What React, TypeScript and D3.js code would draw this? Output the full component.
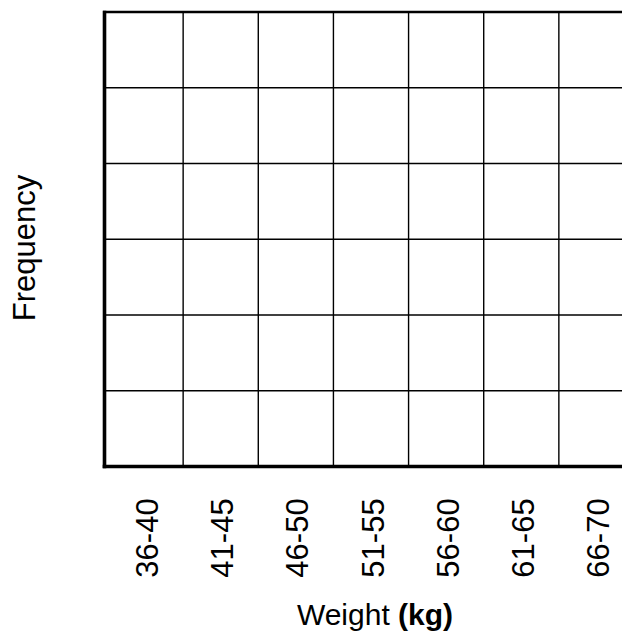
import React from "react";
import * as d3 from "d3";

const categories = ["36-40", "41-45", "46-50", "51-55", "56-60", "61-65", "66-70"];
const yTicks = [0, 1, 2, 3, 4, 5, 6];
const xTitle = "Weight ";
const xTitleBold = "(kg)";
const yTitle = "Frequency";

const W = 622;
const H = 637;

export default function App() {
  const x = d3.scaleBand<string>().domain(categories).range([108, 634]).paddingInner(0).paddingOuter(0);
  const y = d3.scaleLinear().domain([0, 6]).range([466.5, 12]);
  const axisX = 104.5;
  const font = "'Liberation Sans', Arial, Helvetica, sans-serif";
  const boundaries = categories.slice(1).map((c) => x(c) as number);

  return (
    <svg width={W} height={H} style={{ position: "absolute", left: 0, top: 0, background: "#fff" }}>
      <rect width={W} height={H} fill="#fff" />
      {/* horizontal grid lines */}
      {yTicks.slice(1, -1).map((t) => (
        <line key={"h" + t} x1={axisX} x2={W} y1={y(t)} y2={y(t)} stroke="#000" strokeWidth={1.4} />
      ))}
      {/* vertical grid lines */}
      {boundaries.map((b, i) => (
        <line key={"v" + i} x1={b} x2={b} y1={y(6)} y2={y(0)} stroke="#000" strokeWidth={1.4} />
      ))}
      {/* top border */}
      <line x1={axisX - 1.5} x2={W} y1={y(6)} y2={y(6)} stroke="#000" strokeWidth={2.6} />
      {/* left axis */}
      <line x1={axisX} x2={axisX} y1={y(6) - 1.3} y2={y(0) + 1.8} stroke="#000" strokeWidth={3.6} />
      {/* bottom axis */}
      <line x1={axisX - 1.8} x2={W} y1={y(0)} y2={y(0)} stroke="#000" strokeWidth={3.6} />
      {/* tick labels */}
      {categories.map((c) => {
        const cx = (x(c) as number) + x.bandwidth() / 2 + 12.5;
        const cy = 538;
        return (
          <text
            key={c}
            transform={`translate(${cx},${cy}) rotate(-90)`}
            textAnchor="middle"
            fontFamily={font}
            fontSize={31}
            fill="#000"
          >
            {c}
          </text>
        );
      })}
      {/* y title */}
      <text
        transform={`translate(35,248) rotate(-90)`}
        textAnchor="middle"
        fontFamily={font}
        fontSize={31}
        fill="#000"
      >
        {yTitle}
      </text>
      {/* x title */}
      <text x={375} y={625} textAnchor="middle" fontFamily={font} fontSize={30} fill="#000">
        {xTitle}
        <tspan fontWeight="bold">{xTitleBold}</tspan>
      </text>
    </svg>
  );
}
